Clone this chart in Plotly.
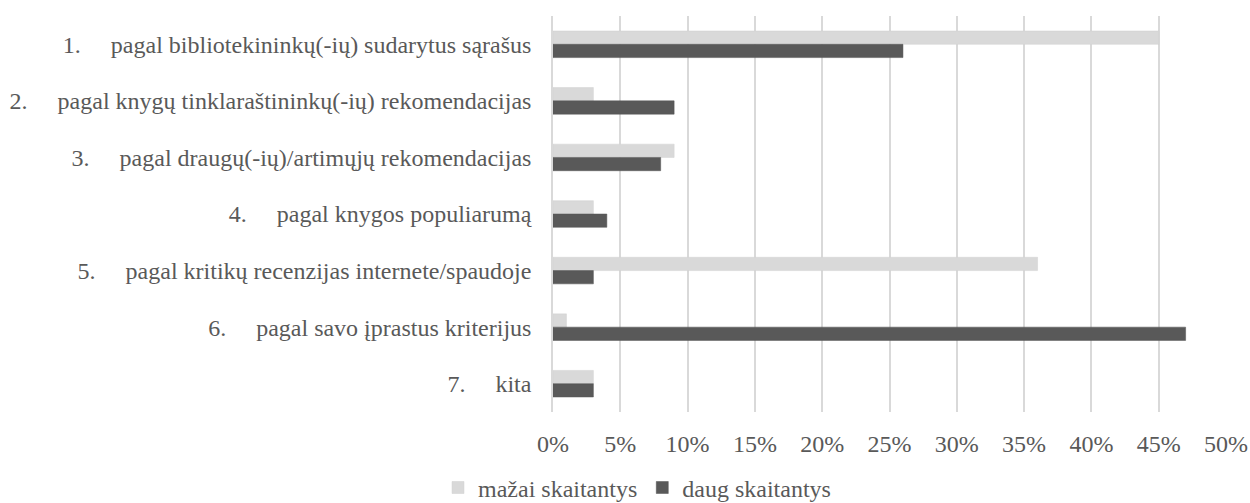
import plotly.graph_objects as go

NB = "\u00a0"
numbers = ["1.", "2.", "3.", "4.", "5.", "6.", "7."]
texts = [
    "pagal bibliotekininkų(-ių) sudarytus sąrašus",
    "pagal knygų tinklaraštininkų(-ių) rekomendacijas",
    "pagal draugų(-ių)/artimųjų rekomendacijas",
    "pagal knygos populiarumą",
    "pagal kritikų recenzijas internete/spaudoje",
    "pagal savo įprastus kriterijus",
    "kita",
]
categories = [n + NB * 5 + t for n, t in zip(numbers, texts)]
mazai = [45, 3, 9, 3, 36, 1, 3]
daug = [26, 9, 8, 4, 3, 47, 3]
tick_vals = [0, 5, 10, 15, 20, 25, 30, 35, 40, 45, 50]
tick_text = ["0%", "5%", "10%", "15%", "20%", "25%", "30%", "35%", "40%", "45%", "50%"]

font_family = "Liberation Serif"
text_color = "#595959"

fig = go.Figure()
fig.add_trace(go.Bar(
    y=categories, x=mazai, orientation="h", name="mažai skaitantys",
    marker=dict(color="#d9d9d9", line=dict(color="#d0d0d0", width=0.5)),
))
fig.add_trace(go.Bar(
    y=categories, x=daug, orientation="h", name="daug skaitantys",
    marker=dict(color="#595959", line=dict(color="#555555", width=0.5)),
))

fig.update_layout(
    width=1250, height=503,
    barmode="group", bargap=0.53, bargroupgap=0,
    plot_bgcolor="white", paper_bgcolor="white",
    margin=dict(l=553, r=24, t=16, b=91),
    font=dict(family=font_family, size=24, color=text_color),
    legend=dict(orientation="h", xref="container", yref="container",
                x=0.3504, xanchor="left", y=0.03, yanchor="middle",
                font=dict(family=font_family, size=24, color=text_color), itemwidth=30,
                tracegroupgap=0, traceorder="normal"),
    xaxis=dict(range=[0, 50], tickvals=tick_vals, ticktext=tick_text,
               tickfont=dict(family=font_family, size=24, color=text_color),
               showgrid=True, gridcolor="#d9d9d9", gridwidth=1.5,
               zeroline=False, showline=False, ticks="",
               ticklabelstandoff=15, automargin=False),
    yaxis=dict(autorange="reversed", showgrid=False, zeroline=False,
               tickfont=dict(family=font_family, size=24, color=text_color),
               showline=True, linecolor="#d9d9d9", linewidth=1.5,
               ticks="", ticklabelstandoff=15, automargin=False),
)

fig.write_html("out.html", config={"displayModeBar": False},
               post_script="document.body.style.margin='0';")
